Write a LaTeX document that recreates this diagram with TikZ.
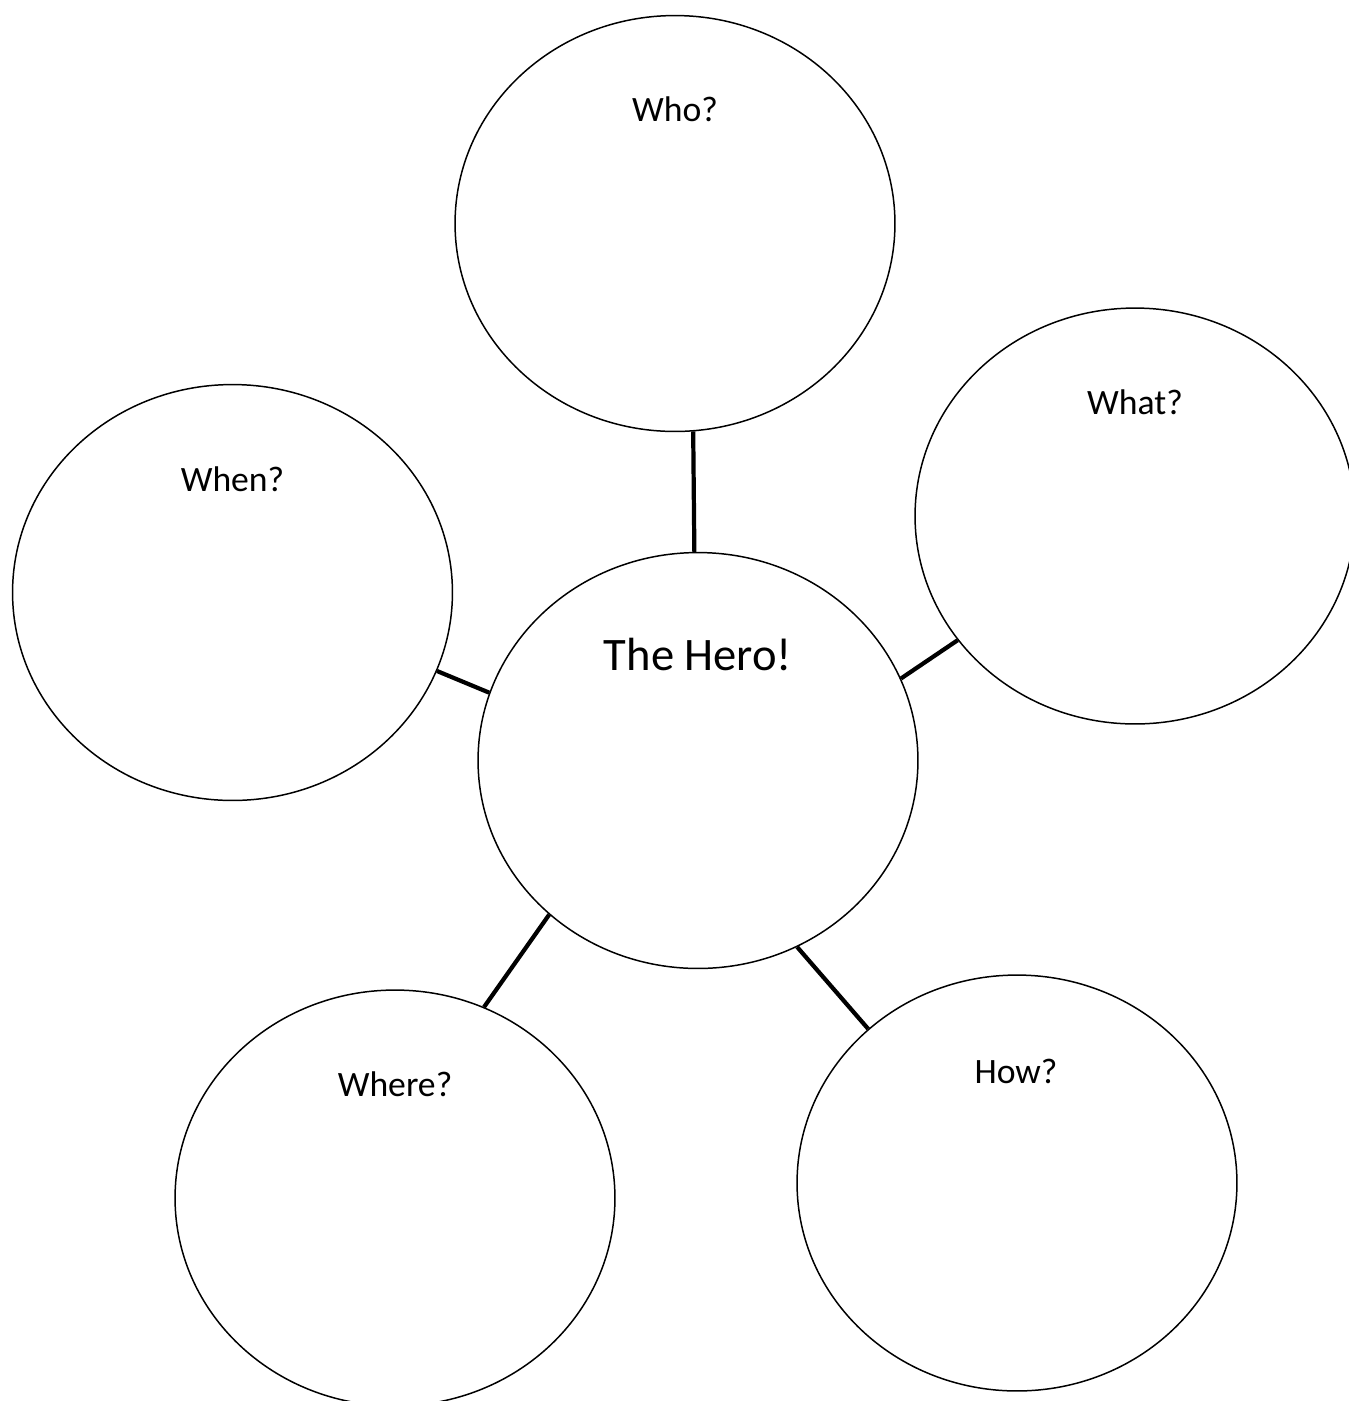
\documentclass[tikz,border=0pt]{standalone}
\usepackage{fontspec}
\setmainfont{Carlito}
\usetikzlibrary{calc,shapes.geometric}

\begin{document}
\begin{tikzpicture}[x=0.02cm,y=-0.02cm]
\tikzset{
% Two styles for the web: the bubbles and the spokes between them
bubble/.style={ellipse,draw,line width=0.85pt,minimum width=8.8cm,minimum height=8.32cm,inner sep=0},
spoke/.style={line width=2.4pt},
ask/.style={anchor=base,inner sep=0,font=\fontsize{20.3}{24}\selectfont},
big/.style={anchor=base,inner sep=0,font=\fontsize{26.5}{32}\selectfont}
}
\clip (0,0) rectangle (1349,1401);

% The bubbles
\node(hero)[bubble] at (698,760.5) {};
\node(who)[bubble] at (675,223.5) {};
\node(what)[bubble] at (1135,516) {};
\node(when)[bubble] at (232.5,592.5) {};
\node(where)[bubble] at (395,1198) {};
\node(how)[bubble] at (1017,1183) {};

% The questions
\node(hero text)[big] at ($(hero)+(0,-90.5)$) {The Hero!};
\node(who text)[ask] at ($(who)+(0,-102.5)$) {Who?};
\node(what text)[ask] at ($(what)+(0,-102)$) {What?};
\node(when text)[ask] at ($(when)+(0,-101.5)$) {When?};
\node(where text)[ask] at ($(where)+(0,-102)$) {Where?};
\node(how text)[ask] at ($(how)+(-1,-100)$) {How?};

% spokes
\draw[spoke] (who.-85) -- (hero.91);
\draw[spoke] (when.-21.5) -- (hero.162);
\draw[spoke] (what.215) -- (hero.22.4);
\draw[spoke] (where.65) -- (hero.226);
\draw[spoke] (how.134.6) -- (hero.-62);
\end{tikzpicture}
\end{document}
